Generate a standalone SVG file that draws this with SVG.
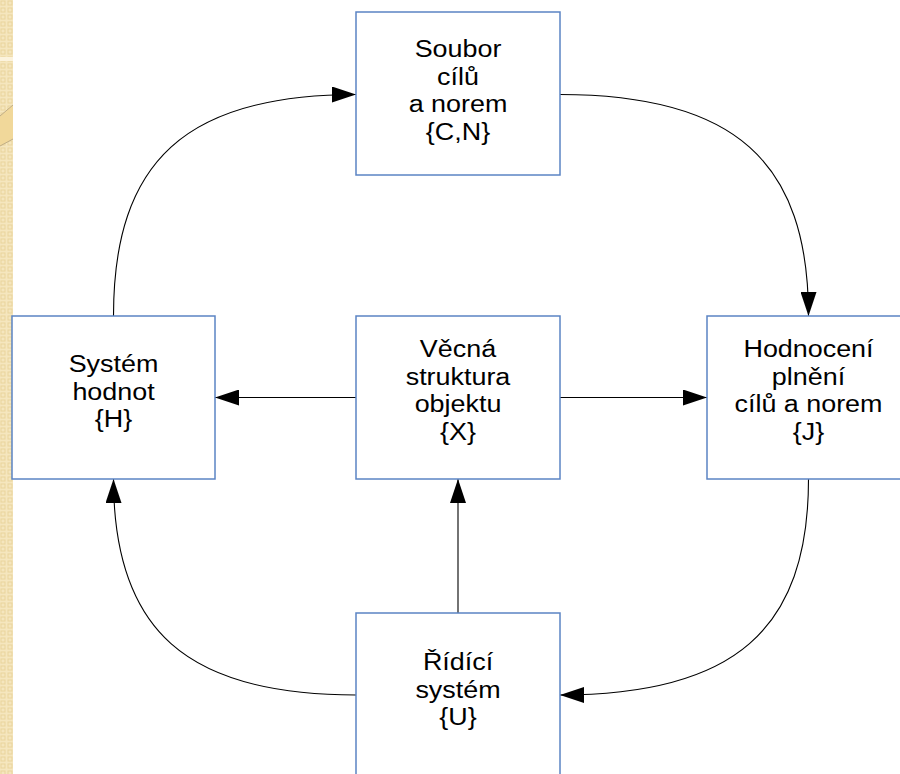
<svg xmlns="http://www.w3.org/2000/svg" width="900" height="774" viewBox="0 0 900 774">
<defs>
<style>
.box{fill:#ffffff;stroke:#5b84c4;stroke-width:1.5}
.lbl{font-family:"Liberation Sans",Arial,sans-serif;font-size:23px;fill:#000;text-anchor:middle}
.con{fill:none;stroke:#000;stroke-width:1.1}
</style>
<marker id="arr" markerUnits="userSpaceOnUse" markerWidth="24" markerHeight="16" refX="24" refY="8" orient="auto" viewBox="0 0 24 16">
<path d="M0,0 L24,8 L0,16 Z" fill="#000"/>
</marker>
<pattern id="chk" width="7" height="7" patternUnits="userSpaceOnUse">
<rect width="7" height="7" fill="#f5e6be"/>
<rect x="1" y="1" width="4" height="4" fill="none" stroke="#ead49c" stroke-width="1"/>
</pattern>
</defs>
<rect width="900" height="774" fill="#ffffff"/>
<g id="strip">
<rect x="0" y="0" width="13" height="774" fill="url(#chk)"/>
<rect x="0" y="57" width="13" height="4" fill="#fcf3dd"/>
<path d="M0,116 L13,105 L13,139 L0,146 Z" fill="#f1d89a"/>
<path d="M0,116 L13,105 M0,146 L13,139" stroke="#c0ad85" stroke-width="1" fill="none"/>
</g>
<g id="connectors">
<path class="con" d="M113.5,316 C113.5,161 186,94.5 356,94.5" marker-end="url(#arr)"/>
<path class="con" d="M560,94.5 C734,94.5 808.5,161 808.5,316" marker-end="url(#arr)"/>
<path class="con" d="M808.5,479 C808.5,630 734,695 560,695" marker-end="url(#arr)"/>
<path class="con" d="M356,695 C186,695 113.5,630 113.5,479" marker-end="url(#arr)"/>
<path class="con" d="M356,397.5 H215" marker-end="url(#arr)"/>
<path class="con" d="M560,397.5 H707" marker-end="url(#arr)"/>
<path class="con" d="M458,613 V479" marker-end="url(#arr)"/>
</g>
<g id="node-cn">
<rect class="box" x="356" y="12" width="204" height="163"/>
<g transform="translate(458 0) scale(1.17 1)">
<text class="lbl" x="0" y="57">Soubor</text>
<text class="lbl" x="0" y="84.7">cílů</text>
<text class="lbl" x="0" y="112.4">a norem</text>
<text class="lbl" x="0" y="140">{C,N}</text>
</g>
</g>
<g id="node-h">
<rect class="box" x="12" y="316" width="203" height="163"/>
<g transform="translate(113.5 0) scale(1.17 1)">
<text class="lbl" x="0" y="372">Systém</text>
<text class="lbl" x="0" y="399.7">hodnot</text>
<text class="lbl" x="0" y="427.4">{H}</text>
</g>
</g>
<g id="node-x">
<rect class="box" x="356" y="316" width="204" height="163"/>
<g transform="translate(458 0) scale(1.17 1)">
<text class="lbl" x="0" y="357">Věcná</text>
<text class="lbl" x="0" y="384.7">struktura</text>
<text class="lbl" x="0" y="412.4">objektu</text>
<text class="lbl" x="0" y="440">{X}</text>
</g>
</g>
<g id="node-j">
<rect class="box" x="707" y="316" width="204" height="163"/>
<g transform="translate(808.5 0) scale(1.17 1)">
<text class="lbl" x="0" y="357">Hodnocení</text>
<text class="lbl" x="0" y="384.7">plnění</text>
<text class="lbl" x="0" y="412.4">cílů a norem</text>
<text class="lbl" x="0" y="440">{J}</text>
</g>
</g>
<g id="node-u">
<rect class="box" x="356" y="613" width="204" height="170"/>
<g transform="translate(458 0) scale(1.17 1)">
<text class="lbl" x="0" y="670">Řídící</text>
<text class="lbl" x="0" y="697.7">systém</text>
<text class="lbl" x="0" y="725.4">{U}</text>
</g>
</g>
</svg>
